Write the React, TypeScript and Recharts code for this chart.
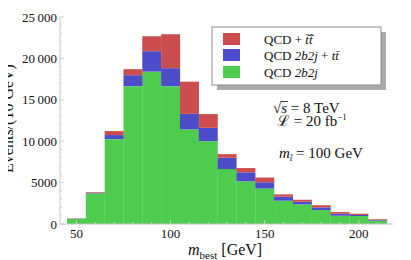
import React from "react";
import { ComposedChart, Bar, XAxis, YAxis } from "recharts";

// bin centres of m_best (GeV), bins of 10 GeV
const bins = [50, 60, 70, 80, 90, 100, 110, 120, 130, 140, 150, 160, 170, 180, 190, 200, 210];
// QCD 2b2j (green, bottom)
const qcd = [620, 3700, 10250, 16650, 18400, 16650, 11420, 10000, 6630, 5150, 4300, 2810, 2370, 1690, 1000, 965, 400];
// t tbar contribution (blue, stacked)
const ttbar = [30, 80, 490, 1320, 2470, 2170, 1880, 1620, 1370, 1090, 730, 490, 320, 320, 240, 125, 80];
// stop pair contribution (red, stacked on top)
const stop = [30, 80, 480, 730, 1810, 4100, 3890, 1660, 440, 515, 600, 280, 240, 260, 210, 150, 90];
// y ticks (labelled every 5000, minor marks every 1000)
const yTicks = [0, 1000, 2000, 3000, 4000, 5000, 6000, 7000, 8000, 9000, 10000, 11000, 12000, 13000, 14000, 15000, 16000, 17000, 18000, 19000, 20000, 21000, 22000, 23000, 24000, 25000];
const xLabelled = [50, 100, 150, 200];

const data = bins.map((b, i) => ({ bin: b, qcd: qcd[i], ttbar: ttbar[i], stop: stop[i] }));

const RED = "#cc4d4d";
const BLUE = "#4d4dcc";
const GREEN = "#4dcc4d";
const FRAME = "#c4c4c4";
const TICK = "#d0d0d0";
const FONT = "'Liberation Serif', 'DejaVu Serif', serif";

const fmt = (v: number) => {
  if (v >= 10000) {
    const s = String(v);
    return s.slice(0, s.length - 3) + "\u2009" + s.slice(s.length - 3);
  }
  return String(v);
};

const W = 411;
const H = 260;

const XTick = (props: any) => {
  const { x, y, payload } = props;
  const major = xLabelled.includes(payload.value);
  const ay = y - 4;
  return (
    <g>
      <line x1={x} x2={x} y1={ay} y2={ay - (major ? 4 : 2)} stroke={TICK} />
      {major && (
        <text x={x} y={y} dy={9.5} textAnchor="middle" fontFamily={FONT} fontSize={13} fill="#111">
          {payload.value}
        </text>
      )}
    </g>
  );
};

const TopTick = (props: any) => {
  const { x, y, payload } = props;
  const major = xLabelled.includes(payload.value);
  return <line x1={x} x2={x} y1={y} y2={y + (major ? 4 : 2)} stroke={TICK} />;
};

const YTick = (props: any) => {
  const { x, y, payload } = props;
  const major = payload.value % 5000 === 0;
  const ax = x + 3;
  return (
    <g>
      <line x1={ax} x2={ax + (major ? 4 : 2)} y1={y} y2={y} stroke={TICK} />
      {major && (
        <text x={x} y={y} dy={4.5} textAnchor="end" fontFamily={FONT} fontSize={13} fill="#111">
          {fmt(payload.value)}
        </text>
      )}
    </g>
  );
};

const RightTick = (props: any) => {
  const { x, y, payload } = props;
  const major = payload.value % 5000 === 0;
  return <line x1={x} x2={x - (major ? 4 : 2)} y1={y} y2={y} stroke={TICK} />;
};

export default function App() {
  return (
    <div style={{ position: "relative", left: -8, top: -8, width: W, height: H, fontFamily: FONT }}>
      <ComposedChart
        width={W}
        height={H}
        data={data}
        margin={{ top: 17, right: 18, bottom: 0, left: 0 }}
        barCategoryGap={0}
        barGap={0}
      >
        <XAxis
          dataKey="bin"
          interval={0}
          tickLine={false}
          tickSize={0}
          tickMargin={4}
          height={36}
          padding={{ left: 7, right: 6 }}
          axisLine={{ stroke: FRAME }}
          tick={<XTick />}
          label={{
            content: () => (
              <text x={188} y={255} fontFamily={FONT} fontSize={16} fill="#111">
                <tspan fontStyle="italic">m</tspan>
                <tspan fontSize={11} dy={4}>best</tspan>
                <tspan dy={-4}> [GeV]</tspan>
              </text>
            ),
          }}
        />
        <XAxis
          xAxisId="top"
          dataKey="bin"
          orientation="top"
          height={0}
          interval={0}
          tickLine={false}
          tickSize={0}
          tickMargin={0}
          tick={<TopTick />}
          padding={{ left: 7, right: 6 }}
          axisLine={{ stroke: FRAME }}
        />
        <YAxis
          type="number"
          domain={[0, 25000]}
          ticks={yTicks}
          interval={0}
          width={60}
          tickLine={false}
          tickSize={0}
          tickMargin={3}
          axisLine={{ stroke: FRAME }}
          tick={<YTick />}
          label={{
            content: () => (
              <text
                x={13}
                y={118.5}
                transform="rotate(-90, 13, 118.5)"
                textAnchor="middle"
                fontFamily={FONT}
                fontSize={16}
                fill="#111"
              >
                Events/(10 GeV)
              </text>
            ),
          }}
        />
        <YAxis
          yAxisId="right"
          orientation="right"
          type="number"
          domain={[0, 25000]}
          ticks={yTicks}
          interval={0}
          width={0}
          tickSize={0}
          tickMargin={0}
          tick={<RightTick />}
          tickLine={false}
          axisLine={{ stroke: FRAME }}
        />
        <Bar dataKey="qcd" stackId="a" fill={GREEN} isAnimationActive={false} />
        <Bar dataKey="ttbar" stackId="a" fill={BLUE} isAnimationActive={false} />
        <Bar dataKey="stop" stackId="a" fill={RED} isAnimationActive={false} />
      </ComposedChart>
      <svg
        width={W}
        height={H}
        style={{ position: "absolute", left: 0, top: 0, pointerEvents: "none" }}
        fontFamily={FONT}
      >
        {/* legend */}
        <rect x={217} y={32} width={169} height={58} fill="#aaaaaa" />
        <rect x={212} y={27} width={169} height={58} fill="#fff" stroke="#8a8a8a" strokeWidth={1} />
        <rect x={223} y={33} width={17} height={12} fill={RED} />
        <rect x={223} y={49} width={17} height={12} fill={BLUE} />
        <rect x={223} y={66} width={17} height={12} fill={GREEN} />
        <text x={264} y={43.5} fontSize={13} fill="#111">
          QCD + <tspan fontStyle="italic">{"t\u0303t\u0303\u0304"}</tspan>
        </text>
        <text x={264} y={59.5} fontSize={13} fill="#111">
          QCD <tspan fontStyle="italic">2b2j</tspan> + <tspan fontStyle="italic">{"tt\u0304"}</tspan>
        </text>
        <text x={264} y={76.5} fontSize={13} fill="#111">
          QCD <tspan fontStyle="italic">2b2j</tspan>
        </text>
        {/* annotations */}
        <text x={273} y={113} fontSize={15} fill="#111">
          {"\u221A"}<tspan fontStyle="italic">s</tspan>{"  = 8 TeV"}
        </text>
        <line x1={281} x2={288} y1={101.5} y2={101.5} stroke="#111" strokeWidth={0.8} />
        <text x={277} y={126} fontSize={15} fill="#111">
          {"\u2112"} = 20 fb<tspan fontSize={9} dy={-6}>{"\u22121"}</tspan>
        </text>
        <text x={279} y={158} fontSize={15} fill="#111">
          <tspan fontStyle="italic">m</tspan>
          <tspan fontSize={9} dy={3} fontStyle="italic">{"t\u0303"}</tspan>
          <tspan dy={-3}> = 100 GeV</tspan>
        </text>
      </svg>
    </div>
  );
}
